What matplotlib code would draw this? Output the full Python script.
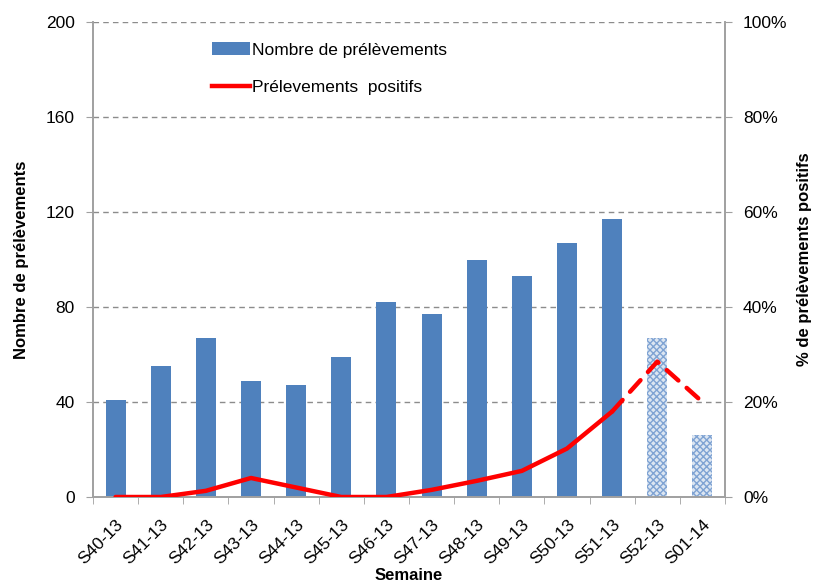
import numpy as np
import matplotlib
matplotlib.use('Agg')
import matplotlib.pyplot as plt
from matplotlib.lines import Line2D
from matplotlib.patches import Patch

plt.rcParams['font.family'] = ['Liberation Sans', 'DejaVu Sans']
plt.rcParams['hatch.linewidth'] = 1.0

# Data
semaines = ['S40-13', 'S41-13', 'S42-13', 'S43-13', 'S44-13', 'S45-13', 'S46-13',
            'S47-13', 'S48-13', 'S49-13', 'S50-13', 'S51-13', 'S52-13', 'S01-14']
nb_prelevements = [41, 55, 67, 49, 47, 59, 82, 77, 100, 93, 107, 117, 67, 26]
pct_positifs = [0, 0, 1.3, 4, 2, 0, 0, 1.5, 3.4, 5.5, 10.2, 18, 28.5, 20]
n_complete = 12  # last two weeks are provisional (hatched / dashed)

bar_color = '#4F81BD'
grid_color = '#8C8C8C'
axis_color = '#A0A0A0'

fig = plt.figure(figsize=(8.17, 5.82), dpi=100)
ax = fig.add_axes([93 / 817, 85 / 582, 632 / 817, 475 / 582])
ax2 = ax.twinx()

x = np.arange(len(semaines))

# Bars: complete weeks solid, provisional weeks hatched
ax.bar(x[:n_complete], nb_prelevements[:n_complete], width=0.44, color=bar_color, zorder=2)
ax.bar(x[n_complete:], nb_prelevements[n_complete:], width=0.44, facecolor='#DCE6F2',
       edgecolor='#7FA3D3', hatch='xxxxx', linewidth=0, zorder=2)

# Line: solid for complete weeks, dashed from the last complete week on
ax2.plot(x[:n_complete], pct_positifs[:n_complete], color='#FF0000', lw=3.2,
         solid_capstyle='round', solid_joinstyle='round', zorder=3)
ax2.plot(x[n_complete - 1:], pct_positifs[n_complete - 1:], color='#FF0000', lw=3.2,
         dashes=(3.5, 2.5), dash_capstyle='round', zorder=3)

ax.set_xlim(-0.5, len(semaines) - 0.5)
ax.set_ylim(0, 200)
ax2.set_ylim(0, 100)
ax.set_yticks(np.arange(0, 201, 40))
ax2.set_yticks(np.arange(0, 101, 20))
ax2.set_yticklabels([f'{v}%' for v in range(0, 101, 20)])

# Gridlines
for v in np.arange(40, 201, 40):
    ax.axhline(v, color=grid_color, lw=1, dashes=(4, 3), zorder=1)

# Category labels at centres, tick marks at boundaries
ax.set_xticks(x)
ax.set_xticklabels(semaines, rotation=45, ha='right', rotation_mode='anchor', fontsize=12.5)
ax.tick_params(axis='x', which='major', length=0, pad=14)
ax.set_xticks(np.arange(-0.5, len(semaines), 1), minor=True)
ax.tick_params(axis='x', which='minor', length=5, color=axis_color, direction='out')

ax.tick_params(axis='y', labelsize=12.5, length=5, color=axis_color, pad=8)
ax2.tick_params(axis='y', labelsize=12.5, length=5, color=axis_color, pad=8)

for a in (ax, ax2):
    a.spines['top'].set_visible(False)
    for s in ('left', 'right', 'bottom'):
        a.spines[s].set_color(axis_color)
        a.spines[s].set_linewidth(1.2)

ax.set_ylabel('Nombre de prélèvements', fontsize=12, fontweight='bold', labelpad=12)
ax2.set_ylabel('% de prélèvements positifs', fontsize=12, fontweight='bold', labelpad=7)
ax.set_xlabel('Semaine', fontsize=12, fontweight='bold', labelpad=1)

handles = [Patch(facecolor=bar_color, edgecolor='none'),
           Line2D([0], [0], color='#FF0000', lw=3.2)]
ax2.legend(handles, ['Nombre de prélèvements', 'Prélevements  positifs'],
           loc='upper left', bbox_to_anchor=(0.163, 0.99), frameon=False,
           fontsize=12.5, handlelength=2.2, handletextpad=0.15, labelspacing=1.3)

fig.savefig('out.png', dpi=100)
